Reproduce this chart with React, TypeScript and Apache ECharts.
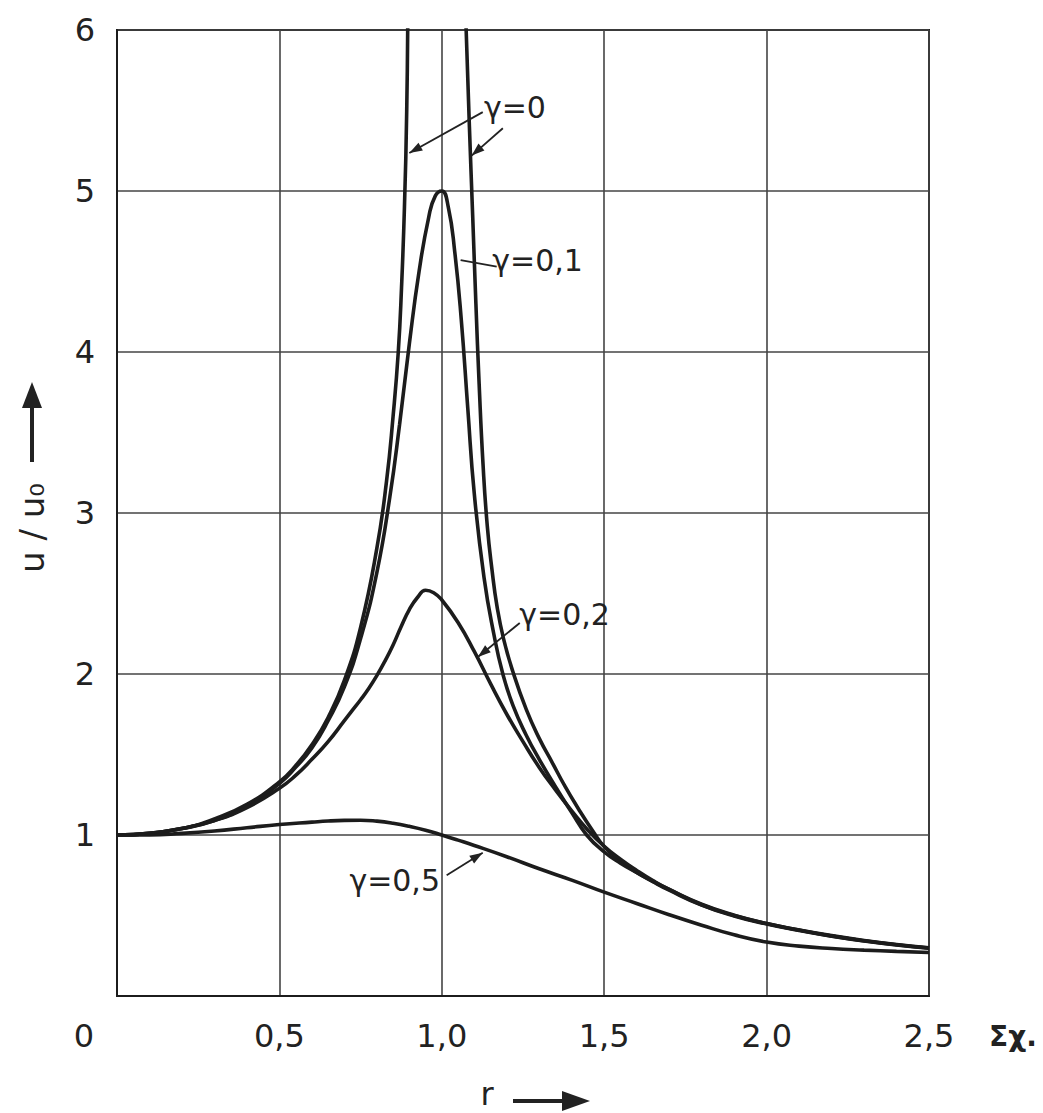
import React, { useEffect, useRef } from "react";
import * as echarts from "echarts";

// ---- data ----
const X_TICKS = [0, 0.5, 1.0, 1.5, 2.0, 2.5];
const Y_TICKS = [0, 1, 2, 3, 4, 5, 6];

// gamma = 0 : resonance curve, two branches going off the top
const gamma0Left: number[][] = [
  [0, 1], [0.1, 1.01], [0.2, 1.04], [0.3, 1.1], [0.4, 1.19], [0.5, 1.33],
  [0.55, 1.43], [0.6, 1.56], [0.65, 1.73], [0.7, 1.96], [0.75, 2.29],
  [0.8, 2.78], [0.83, 3.2], [0.85, 3.6], [0.866, 4.0], [0.876, 4.4],
  [0.885, 4.9], [0.892, 5.5], [0.895, 6.0], [0.897, 6.4],
];
const gamma0Right: number[][] = [
  [1.068, 6.4], [1.075, 6.0], [1.085, 5.4], [1.095, 4.85], [1.105, 4.3],
  [1.115, 3.8], [1.127, 3.3], [1.14, 2.92], [1.155, 2.64], [1.17, 2.42],
  [1.19, 2.22], [1.218, 2.02], [1.26, 1.78], [1.3, 1.6], [1.34, 1.45],
  [1.38, 1.3], [1.42, 1.165], [1.465, 1.025], [1.5, 0.928], [1.55, 0.838],
  [1.6, 0.768], [1.65, 0.712], [1.7, 0.662], [1.8, 0.57], [1.9, 0.502],
  [2.0, 0.45], [2.1, 0.41], [2.2, 0.375], [2.3, 0.345], [2.4, 0.32],
  [2.5, 0.3],
];
const gamma01: number[][] = [
  [0, 1], [0.1, 1.01], [0.2, 1.04], [0.3, 1.09], [0.4, 1.18], [0.5, 1.32],
  [0.55, 1.42], [0.6, 1.54], [0.65, 1.71], [0.7, 1.92], [0.75, 2.22],
  [0.8, 2.63], [0.84, 3.1], [0.87, 3.55], [0.9, 4.05], [0.93, 4.5],
  [0.96, 4.84], [0.98, 4.97], [1.0, 5.0], [1.02, 4.9], [1.04, 4.62],
  [1.06, 4.2], [1.08, 3.65], [1.1, 3.12], [1.13, 2.6], [1.16, 2.25],
  [1.188, 2.0], [1.22, 1.8], [1.26, 1.62], [1.3, 1.47], [1.35, 1.3],
  [1.4, 1.14], [1.446, 1.0], [1.5, 0.895], [1.55, 0.825], [1.6, 0.768],
  [1.65, 0.71], [1.7, 0.657], [1.8, 0.565], [1.9, 0.497], [2.0, 0.447],
  [2.1, 0.407], [2.2, 0.372], [2.3, 0.342], [2.4, 0.317], [2.5, 0.297],
];
const gamma02: number[][] = [
  [0, 1], [0.1, 1.01], [0.2, 1.04], [0.3, 1.09], [0.4, 1.17], [0.5, 1.29],
  [0.55, 1.37], [0.6, 1.47], [0.65, 1.58], [0.7, 1.71], [0.725, 1.775],
  [0.75, 1.84], [0.775, 1.91], [0.8, 1.99], [0.825, 2.08], [0.85, 2.18],
  [0.875, 2.295], [0.9, 2.4], [0.925, 2.475], [0.95, 2.52], [0.975, 2.505],
  [1.0, 2.46], [1.05, 2.32], [1.1, 2.14], [1.15, 1.94], [1.2, 1.75],
  [1.25, 1.58], [1.3, 1.42], [1.35, 1.28], [1.4, 1.15], [1.45, 1.03],
  [1.5, 0.93], [1.55, 0.85], [1.6, 0.78], [1.65, 0.717], [1.7, 0.662],
  [1.8, 0.567], [1.9, 0.5], [2.0, 0.45], [2.1, 0.41], [2.2, 0.373],
  [2.3, 0.343], [2.4, 0.318], [2.5, 0.298],
];
const gamma05: number[][] = [
  [0, 1], [0.1, 1.0], [0.2, 1.01], [0.3, 1.025], [0.4, 1.045], [0.5, 1.065],
  [0.6, 1.08], [0.65, 1.087], [0.7, 1.091], [0.75, 1.092], [0.8, 1.086],
  [0.85, 1.073], [0.9, 1.054], [0.95, 1.03], [1.0, 1.0], [1.05, 0.968],
  [1.1, 0.935], [1.2, 0.865], [1.3, 0.79], [1.4, 0.72], [1.5, 0.645],
  [1.6, 0.575], [1.7, 0.505], [1.8, 0.44], [1.9, 0.38], [2.0, 0.335],
  [2.1, 0.31], [2.2, 0.295], [2.3, 0.285], [2.4, 0.277], [2.5, 0.27],
];

// annotation labels (data coordinates)
const LABELS = [
  { text: "γ=0", at: [1.225, 5.52] },
  { text: "γ=0,1", at: [1.295, 4.57] },
  { text: "γ=0,2", at: [1.378, 2.37] },
  { text: "γ=0,5", at: [0.855, 0.72] },
];
const LEADERS = [
  { from: [1.126, 5.49], to: [0.9, 5.236], arrow: true },
  { from: [1.188, 5.39], to: [1.092, 5.22], arrow: true },
  { from: [1.169, 4.53], to: [1.058, 4.57], arrow: false },
  { from: [1.24, 2.317], to: [1.111, 2.106], arrow: true },
  { from: [1.015, 0.75], to: [1.126, 0.89], arrow: true },
];

const INK = "#1c1c1c";
const FONT = '"DejaVu Sans", sans-serif';

function curve(name: string, data: number[][]) {
  return {
    name,
    type: "line",
    data,
    smooth: 0.5,
    symbol: "none",
    clip: true,
    lineStyle: { color: INK, width: 3.6 },
    z: 3,
  };
}

export default function App() {
  const ref = useRef<HTMLDivElement>(null);
  useEffect(() => {
    const chart = echarts.init(ref.current!, undefined, { renderer: "svg" });
    chart.setOption({
      animation: false,
      backgroundColor: "#ffffff",
      grid: {
        left: 117, top: 30, right: 114, bottom: 117,
        show: true, borderColor: INK, borderWidth: 2, backgroundColor: "transparent",
      },
      xAxis: {
        type: "value",
        min: X_TICKS[0],
        max: X_TICKS[X_TICKS.length - 1],
        interval: 0.5,
        axisLine: { show: true, lineStyle: { color: INK, width: 2 } },
        axisTick: { show: false },
        splitLine: { show: true, lineStyle: { color: "#444", width: 1.6 } },
        axisLabel: {
          margin: 24,
          fontSize: 32,
          fontFamily: FONT,
          color: "#222",
          formatter: (v: number) => (v === 0 ? "" : v.toFixed(1).replace(".", ",")),
        },
      },
      yAxis: {
        type: "value",
        min: Y_TICKS[0],
        max: Y_TICKS[Y_TICKS.length - 1],
        interval: 1,
        axisLine: { show: true, lineStyle: { color: INK, width: 2 } },
        axisTick: { show: false },
        splitLine: { show: true, lineStyle: { color: "#444", width: 1.6 } },
        axisLabel: {
          margin: 22,
          fontSize: 32,
          fontFamily: FONT,
          color: "#222",
          formatter: (v: number) => (v === 0 ? "" : String(v)),
        },
      },
      series: [
        curve("γ=0 left", gamma0Left),
        curve("γ=0 right", gamma0Right),
        curve("γ=0,1", gamma01),
        curve("γ=0,2", gamma02),
        curve("γ=0,5", gamma05),
      ],
    });

    const px = (p: number[]) => chart.convertToPixel({ gridIndex: 0 }, p) as number[];
    const els: any[] = [];
    const txt = (text: string, x: number, y: number, size: number, extra: any = {}) => ({
      type: "text",
      z: 10,
      ...extra,
      style: {
        text, x: extra.rotation ? 0 : x, y: extra.rotation ? 0 : y,
        font: `${size}px ${FONT}`, fill: "#222", align: "center", verticalAlign: "middle",
      },
      ...(extra.rotation ? { x, y } : {}),
    });
    const arrowHead = (tip: number[], from: number[], len: number, half: number) => {
      const dx = tip[0] - from[0], dy = tip[1] - from[1];
      const L = Math.hypot(dx, dy) || 1;
      const ux = dx / L, uy = dy / L;
      const bx = tip[0] - ux * len, by = tip[1] - uy * len;
      return {
        type: "polygon", z: 10,
        shape: { points: [tip, [bx - uy * half, by + ux * half], [bx + uy * half, by - ux * half]] },
        style: { fill: "#222" },
      };
    };

    LABELS.forEach((l) => {
      const p = px(l.at);
      els.push(txt(l.text, p[0], p[1], 30));
    });
    LEADERS.forEach((l) => {
      const a = px(l.from), b = px(l.to);
      els.push({
        type: "line", z: 10,
        shape: { x1: a[0], y1: a[1], x2: b[0], y2: b[1] },
        style: { stroke: "#222", lineWidth: 1.8 },
      });
      if (l.arrow) els.push(arrowHead(b, a, 13, 4.5));
    });

    // origin label, axis titles
    const origin = px([0, 0]);
    els.push(txt("0", origin[0] - 33, origin[1] + 40, 32));
    const xEnd = px([X_TICKS[X_TICKS.length - 1], 0]);
    els.push({
      type: "text", z: 10,
      style: { text: "Σχ.", x: xEnd[0] + 60, y: xEnd[1] + 40, font: `bold 28px ${FONT}`, fill: "#222", align: "left", verticalAlign: "middle" },
    });
    // r ->
    els.push(txt("r", 487, 1094, 32));
    els.push({ type: "line", z: 10, shape: { x1: 513, y1: 1101, x2: 570, y2: 1101 }, style: { stroke: "#222", lineWidth: 4 } });
    els.push(arrowHead([590, 1101], [513, 1101], 28, 10));
    // u/u0 with arrow up
    els.push(txt("u / u₀", 32, 528, 34, { rotation: Math.PI / 2 }));
    els.push({ type: "line", z: 10, shape: { x1: 32, y1: 462, x2: 32, y2: 400 }, style: { stroke: "#222", lineWidth: 4 } });
    els.push(arrowHead([32, 382], [32, 462], 26, 10));

    chart.setOption({ graphic: els });
    return () => chart.dispose();
  }, []);
  return (
    <div
      ref={ref}
      style={{ position: "fixed", left: 0, top: 0, width: 1043, height: 1113, background: "#fff" }}
    />
  );
}
